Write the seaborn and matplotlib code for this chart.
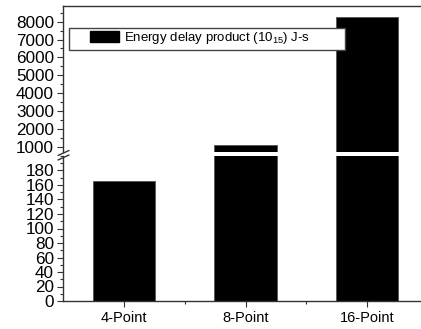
import matplotlib
matplotlib.use("Agg")
import matplotlib.pyplot as plt
import seaborn as sns
import pandas as pd
from matplotlib.lines import Line2D
from matplotlib.patches import Patch, Rectangle
from matplotlib.ticker import MultipleLocator

categories = ["4-Point", "8-Point", "16-Point"]
values = [165, 1100, 8250]
legend_label = "Energy delay product (10$_{15}$) J-s"

sns.set_theme(style="white")
plt.rcParams['font.family'] = ['Liberation Sans', 'DejaVu Sans']
plt.rcParams['mathtext.fontset'] = 'custom'
plt.rcParams['mathtext.rm'] = 'Liberation Sans'
plt.rcParams['mathtext.it'] = 'Liberation Sans'
plt.rcParams['mathtext.default'] = 'regular'
plt.rcParams['text.color'] = 'black'
plt.rcParams['xtick.color'] = '#333333'
plt.rcParams['ytick.color'] = '#333333'
plt.rcParams['xtick.labelcolor'] = 'black'
plt.rcParams['ytick.labelcolor'] = 'black'

df = pd.DataFrame({"cat": categories, "val": values})

W, H = 421, 329
fig = plt.figure(figsize=(W / 100, H / 100), dpi=100)

def fx(px):
    return px / W

def fy(py):
    return 1 - py / H

left = fx(63)
width = fx(428) - left
ax_lo = fig.add_axes([left, fy(301), width, fy(156) - fy(301)])
ax_hi = fig.add_axes([left, fy(151.5), width, fy(6) - fy(151.5)])

for ax in (ax_lo, ax_hi):
    sns.barplot(data=df, x="cat", y="val", ax=ax, color="black",
                width=0.51, edgecolor="#555555", linewidth=0.6, saturation=1)
    ax.set_xlim(-0.5, 2.5)
    ax.set_xlabel("")
    ax.set_ylabel("")
    ax.spines['right'].set_visible(False)
    for s in ax.spines.values():
        s.set_color("#333333")
        s.set_linewidth(1.0)
    ax.tick_params(axis='both', which='both', direction='out')
    ax.tick_params(axis='y', which='major', left=True, length=4.5, width=0.8,
                   labelsize=12.3, pad=2)
    ax.tick_params(axis='y', which='minor', left=True, length=2.5, width=0.8)
    ax.tick_params(axis='x', which='major', bottom=True, length=4, width=0.8,
                   labelsize=10.5, pad=3)
    ax.tick_params(axis='x', which='minor', bottom=True, length=2.5, width=0.8)

ax_lo.set_ylim(0, 200)
ax_lo.set_yticks(range(0, 181, 20))
ax_lo.yaxis.set_minor_locator(MultipleLocator(10))
ax_lo.set_xticks(range(len(categories)))
ax_lo.set_xticklabels(categories)
ax_lo.set_xticks([0.5, 1.5], minor=True)
ax_lo.spines['top'].set_visible(False)

ax_hi.set_ylim(731, 8880)
ax_hi.set_yticks(range(1000, 8001, 1000))
ax_hi.yaxis.set_minor_locator(MultipleLocator(500))
ax_hi.spines['bottom'].set_visible(False)
ax_hi.tick_params(axis='x', which='both', bottom=False, labelbottom=False)

# axis break marks
for dy in (0, 4.5):
    fig.add_artist(Line2D([fx(58), fx(69)], [fy(155.5 + dy), fy(150.5 + dy)],
                          transform=fig.transFigure, color="#333333", lw=1.0))

# legend frame and entry
ax_hi.add_patch(Rectangle((fx(69), fy(50)), fx(345) - fx(69), fy(28) - fy(50),
                          transform=fig.transFigure, facecolor="white",
                          edgecolor="#444444", linewidth=1.0, zorder=4,
                          clip_on=False))
handle = Patch(facecolor="black", edgecolor="black")
leg = ax_hi.legend([handle], [legend_label], loc="center left",
                   bbox_to_anchor=(fx(90), fy(38)), bbox_transform=fig.transFigure,
                   frameon=False, fontsize=9.5, handlelength=2.2,
                   handleheight=0.85, handletextpad=0.38, borderpad=0,
                   borderaxespad=0)
leg.set_zorder(6)

fig.savefig("out.png", dpi=100)
